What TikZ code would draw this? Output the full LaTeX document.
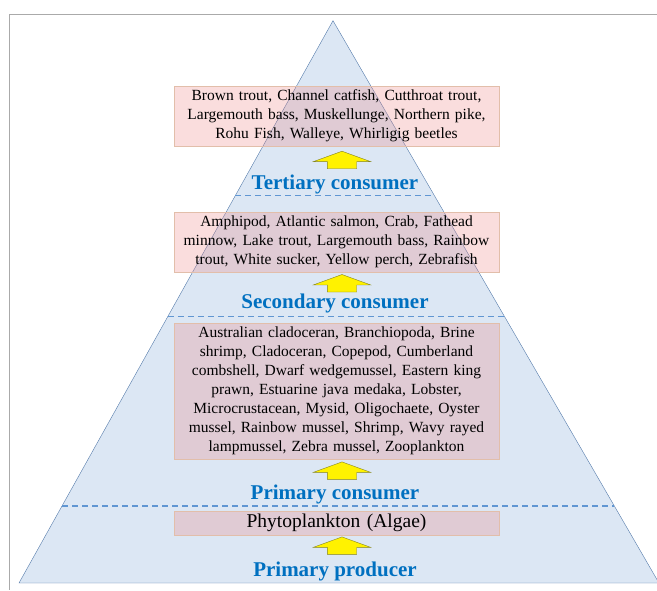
\documentclass[tikz,border=0pt]{standalone}
\usepackage{fontspec}
\setmainfont{Liberation Serif}
\usetikzlibrary{shapes.arrows,calc}

\definecolor{pyrfill}{RGB}{220,231,244}
\definecolor{pyredge}{RGB}{84,122,170}
\definecolor{levelline}{RGB}{96,150,210}
\definecolor{boxfill}{RGB}{236,128,128}
\definecolor{boxedge}{RGB}{226,190,170}
\definecolor{labelblue}{RGB}{0,112,192}
\definecolor{arrowedge}{RGB}{130,130,30}
\definecolor{framegray}{RGB}{170,170,170}

\begin{document}
\begin{tikzpicture}[
      x=1pt, y=-1pt,
      species/.style={
        draw=boxedge, fill=boxfill, fill opacity=0.27, text opacity=1,
        text width=318pt, align=center, inner xsep=3.5pt, inner ysep=2pt,
        font=\fontsize{15.5}{19}\selectfont
      },
      level/.style={font=\fontsize{21}{24}\selectfont\bfseries, text=labelblue, inner sep=0pt},
      uparrow/.style={
        single arrow, shape border rotate=90, draw=arrowedge, fill=yellow,
        minimum height=17.5pt, inner xsep=14.5pt, inner ysep=0pt,
        single arrow head extend=14pt, single arrow tip angle=140
      },
      levelsep/.style={levelline, line width=1.1pt, dash pattern=on 6pt off 4pt}
      ]

      \useasboundingbox (0,0) rectangle (657,590);

      % frame and pyramid
      \draw[framegray] (657,14) -- (9,14) -- (9,590);
      \coordinate (apex)  at (333,20.7);
      \coordinate (baseL) at (19,583);
      \coordinate (baseR) at (659,583);
      \draw[pyredge, fill=pyrfill] (apex) -- (baseL) -- (baseR) -- cycle;

      % level separators
      \draw[levelsep] ($(apex)!0.311!(baseL)$)  -- ($(apex)!0.311!(baseR)$);
      \draw[levelsep] ($(apex)!0.5264!(baseL)$) -- ($(apex)!0.5264!(baseR)$);
      \draw[levelsep] ($(apex)!0.863!(baseL)$)  -- ($(apex)!0.863!(baseR)$);

      % species boxes
      \node[species, anchor=north, minimum height=60pt] (tertbox) at (336.5,86)
        {Brown trout, Channel catfish, Cutthroat trout,\\
         Largemouth bass, Muskellunge, Northern pike,\\
         Rohu Fish, Walleye, Whirligig beetles};
      \node[species, anchor=north, minimum height=60pt] (secbox) at (336.5,211.7)
        {Amphipod, Atlantic salmon, Crab, Fathead\\
         minnow, Lake trout, Largemouth bass, Rainbow\\
         trout, White sucker, Yellow perch, Zebrafish};
      \node[species, anchor=north, minimum height=136.6pt] (primbox) at (336.5,322.7)
        {Australian cladoceran, Branchiopoda, Brine\\
         shrimp, Cladoceran, Copepod, Cumberland\\
         combshell, Dwarf wedgemussel, Eastern king\\
         prawn, Estuarine java medaka, Lobster,\\
         Microcrustacean, Mysid, Oligochaete, Oyster\\
         mussel, Rainbow mussel, Shrimp, Wavy rayed\\
         lampmussel, Zebra mussel, Zooplankton};
      \node[species, anchor=north, minimum height=24pt, inner ysep=0pt,
            font=\fontsize{19.5}{22}\selectfont] (phytobox) at (336.5,511)
        {Phytoplankton (Algae)};

      % arrows up the chain
      \node[uparrow, anchor=tip] (tertarrow) at (342,151)   {};
      \node[uparrow, anchor=tip] (secarrow)  at (342,274.3) {};
      \node[uparrow, anchor=tip] (primarrow) at (342,461.7) {};
      \node[uparrow, anchor=tip] (prodarrow) at (342,536.7) {};

      % trophic levels
      \node[level, anchor=base] (tertiary)  at (335,189)   {Tertiary consumer};
      \node[level, anchor=base] (secondary) at (335,308.3) {Secondary consumer};
      \node[level, anchor=base] (primary)   at (335,499.3) {Primary consumer};
      \node[level, anchor=base] (producer)  at (335,576)   {Primary producer};

\end{tikzpicture}
\end{document}
